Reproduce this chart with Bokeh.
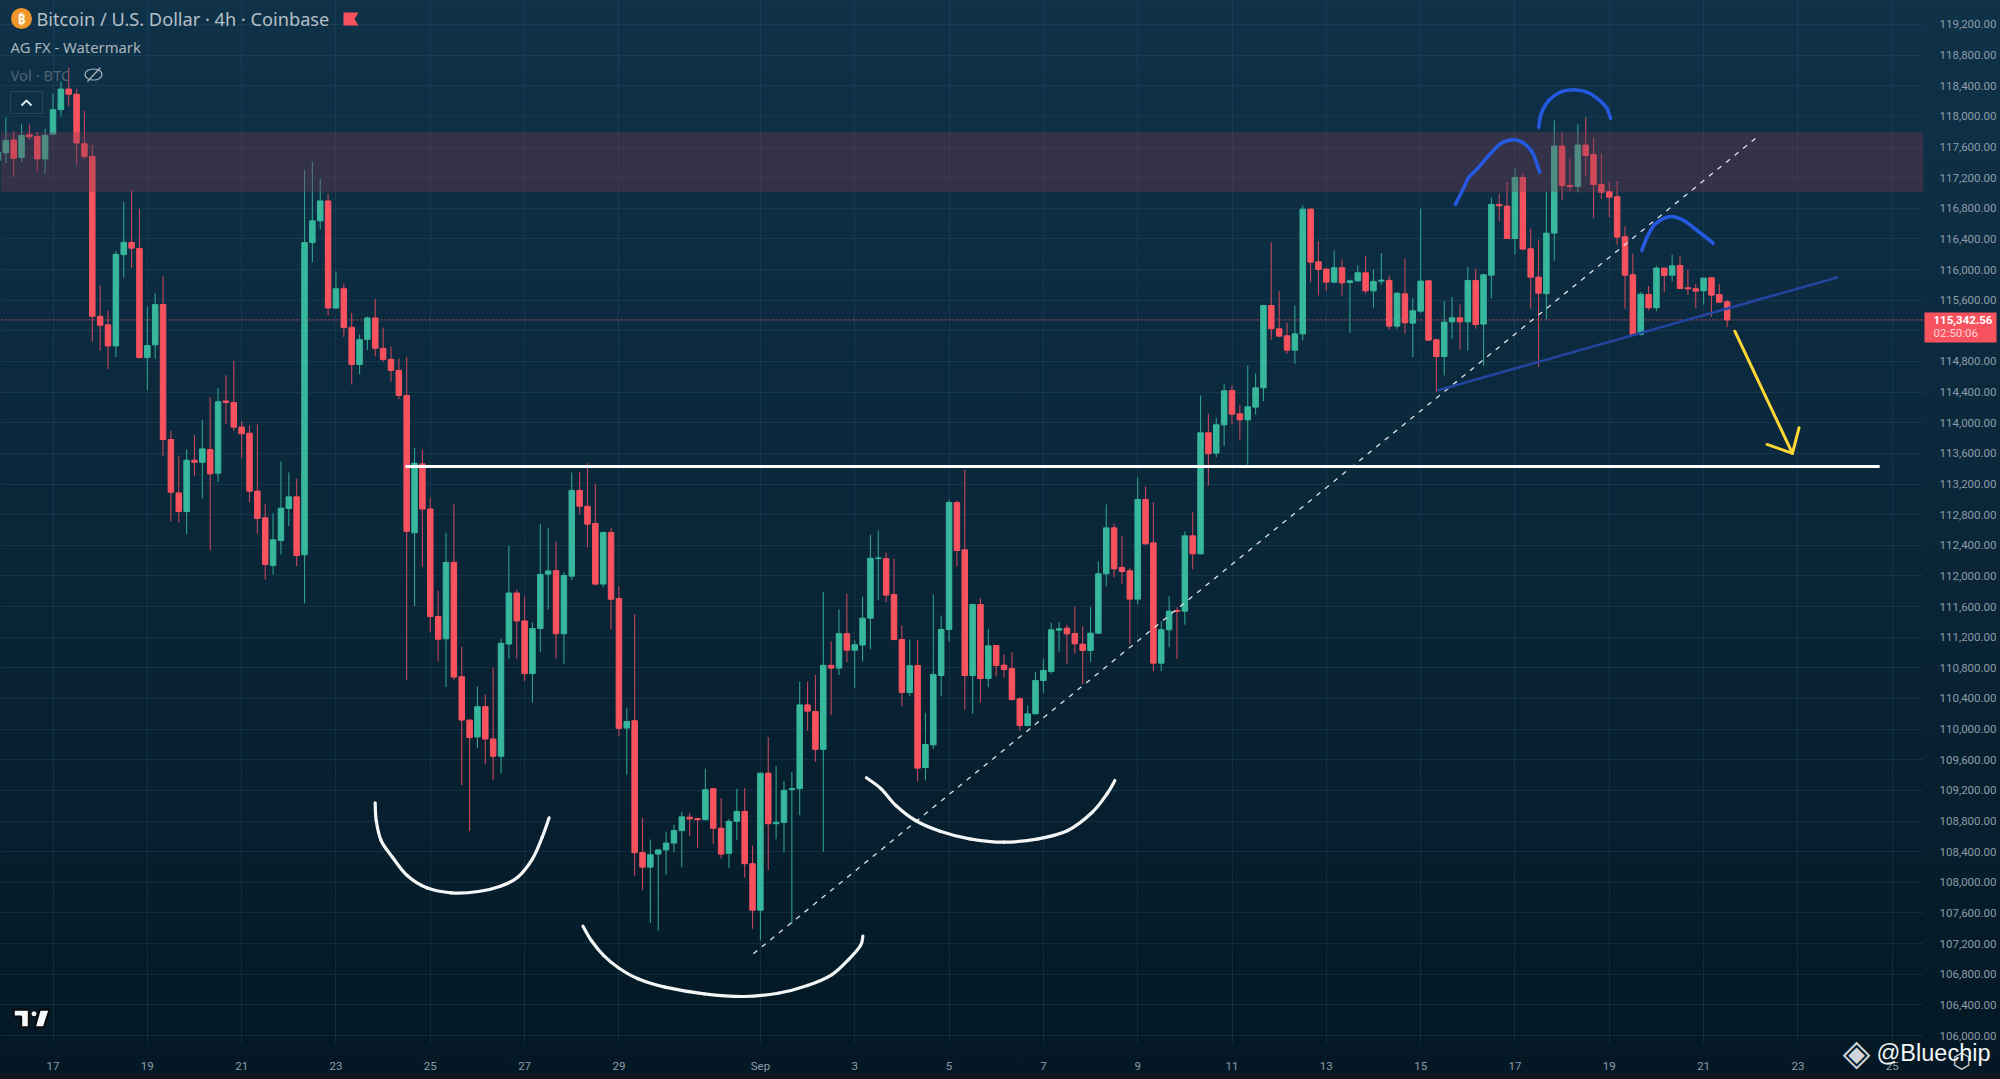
from bokeh.plotting import figure
from bokeh.layouts import column
from bokeh.models import FixedTicker, NumeralTickFormatter, Label
from bokeh.embed import file_html
from bokeh.resources import INLINE

# ---------- candle data (4h candles; index 0 = 17 Aug 00:00) ----------
first_index = -7
opens = [117422,117526,117692,117463,117760,117737,117445,
 117769,118088,118357,118290,117643,117476,115390,115278,115003,116195,
 116352,116276,114851,115017,115543,113781,113084,112841,113511,113484,
 113651,113342,114284,114265,113943,113864,113107,112759,112137,112463,
 112881,113033,112276,116352,116636,116896,115498,115750,115246,114761,
 115089,115368,114972,114828,114684,114356,112564,113463,112874,111471,
 111179,112177,110684,110118,109898,110293,109871,109646,111111,111777,
 111413,110725,111314,112024,112069,111246,111997,113117,112910,112685,
 111894,112568,111705,110014,110109,108387,108198,108369,108423,108513,
 108675,108850,108832,108818,109223,108706,108378,108796,108926,108243,
 107636,109425,108765,108783,109210,109223,110316,110230,109736,110833,
 110797,111246,111031,111098,111449,112226,112226,111758,111170,110478,
 110831,109499,109795,110700,111301,112959,112341,110700,111627,110661,
 111092,110835,110792,110396,110047,110200,110635,110752,111292,111318,
 111249,111109,111027,111253,112028,112628,112110,112067,111697,112998,
 112432,110861,111297,111549,111540,112524,112289,113869,113603,113973,
 114421,114117,114038,114204,114456,115531,115227,115135,114948,115161,
 116789,116101,116006,115836,116023,115832,115853,115958,115723,115849,
 115858,115262,115684,115301,115457,115853,115083,114865,115318,115370,
 115318,115858,115288,115927,116850,116828,116406,117203,116271,115901,
 115684,116476,117612,117098,117085,117625,117503,117111,117020,116950,
 116428,115932,115153,115675,115501,116019,115927,116054,115762,115749,
 115723,115893,115675,115579]
highs = [117600,117984,117805,117894,117894,117796,117840,
 118299,118456,118636,118357,118074,117625,115795,115467,116244,116883,
 117040,116793,115512,115691,115916,113893,113565,113646,113839,114037,
 114334,114456,114621,114806,114021,113964,113978,112942,112820,113494,
 113351,113268,117301,117409,117184,116986,115975,115817,115435,115152,
 115386,115615,115242,114995,114837,114860,113674,113643,113022,111808,
 112564,112932,111076,110130,110558,110451,110806,111179,112393,111822,
 111732,111395,112681,112627,112451,112047,113350,113359,113472,113202,
 112580,112631,111862,110280,111503,108841,108558,108430,108661,108751,
 108917,108908,108841,109484,109230,109102,108827,109223,109232,108481,
 109430,109898,109515,109322,109439,110617,110617,110707,111795,111143,
 111561,111772,111156,111727,112537,112595,112303,112223,111353,111166,
 111157,110213,111758,111484,112994,112985,113385,111636,111710,111310,
 111100,110974,111005,110417,110309,110744,110918,111388,111397,111362,
 111601,111344,111592,112189,112933,112680,112519,112106,113290,113168,
 112963,111410,111736,111592,112585,112833,114356,114117,114065,114508,
 114487,114234,114748,114648,115540,116358,115718,115305,115531,116837,
 116800,116371,116015,116249,116132,115871,116054,116171,116001,116215,
 115923,115705,116141,115631,116793,115860,115090,115588,115640,115544,
 116032,116010,115945,116937,116989,117142,117316,117259,116532,116380,
 117020,117947,117794,117446,117895,117990,117729,117512,117150,117155,
 116567,116206,115705,115784,116045,116025,116193,116171,115997,115814,
 115893,115900,115814,115605]
lows = [117380,117391,117211,117409,117692,117279,117251,
 117760,118007,118128,117364,117445,115062,114941,114702,114860,115894,
 116020,114840,114424,114837,113565,112715,112693,112544,113308,113016,
 112332,113225,113983,113891,113542,112964,112550,111954,112019,112280,
 112650,112128,111645,116096,116523,115399,115489,115120,114500,114635,
 114950,114869,114792,114536,114307,110639,111606,112123,111260,110887,
 110549,110639,109268,108670,109754,109538,109336,109425,110918,110918,
 110630,110347,111008,111561,110923,110851,111943,112806,112370,111876,
 111853,111305,109907,109403,108086,107897,107470,107371,108099,108391,
 108198,108603,108450,108810,108504,108310,108189,108549,108063,107393,
 107245,108158,108562,108391,107456,108877,109978,109574,108400,110181,
 110707,110878,110536,110887,111044,111682,111660,111160,110300,110430,
 109316,109329,109742,110430,111144,112128,110252,110200,110352,110548,
 110687,110670,110374,109982,110039,110195,110474,110722,111014,110853,
 110983,110583,110874,111244,111867,111984,111897,111114,111627,112406,
 110757,110757,111070,110914,111362,112084,112280,113181,113551,113695,
 113978,113782,113451,114108,114282,115083,115118,114900,114770,115074,
 115836,115662,115719,115825,115662,115175,115845,115684,115501,115801,
 115214,115227,115161,114857,115436,115070,114400,114617,115096,114953,
 114944,115227,114739,115627,116628,116400,116197,116260,115488,114726,
 115353,116115,116902,117020,117011,117229,116672,116924,116685,116328,
 115488,115140,115140,115466,115457,115705,115849,115745,115671,115497,
 115544,115388,115562,115248]
closes = [117535,117683,117454,117751,117733,117445,117751,
 118088,118357,118290,117652,117476,115390,115273,115003,116199,116357,
 116280,114851,115008,115543,113781,113093,112841,113511,113484,113659,
 113333,114273,114265,113943,113856,113107,112750,112150,112472,112885,
 113033,112267,116352,116636,116896,115498,115750,115242,114761,115085,
 115368,114972,114828,114684,114356,112582,113472,112874,111471,111174,
 112177,110680,110118,109889,110293,109871,109646,111120,111777,111413,
 110725,111314,112020,112065,111246,112006,113117,112910,112676,111894,
 112568,111696,110010,110100,108387,108198,108360,108423,108513,108675,
 108855,108828,108818,109210,108706,108369,108796,108926,108243,107636,
 109425,108765,108783,109201,109223,110316,110235,109736,110833,110797,
 111246,111031,111102,111449,112231,112235,111750,111170,110478,110827,
 109490,109799,110713,111301,112959,112332,110700,111627,110661,111088,
 110831,110779,110387,110047,110200,110635,110766,111297,111310,111244,
 111114,111027,111253,112028,112628,112093,112058,111697,112998,112419,
 110861,111297,111540,111536,112524,112289,113869,113595,113973,114417,
 114112,114038,114208,114456,115531,115227,115131,114948,115161,116789,
 116097,116001,115836,116023,115827,115853,115958,115723,115845,115862,
 115262,115692,115305,115462,115849,115079,114865,115314,115370,115318,
 115858,115283,115932,116850,116833,116406,117203,116267,115901,115692,
 116476,117612,117098,117085,117625,117490,117111,117011,116946,116424,
 115927,115153,115679,115501,116019,115923,116049,115753,115749,115719,
 115888,115666,115575,115342.56]

# ---------- axis content ----------
time_tick_index = [0,12,24,36,48,60,72,90,102,114,126,138,150,162,174,186,198,210,222,234]
time_tick_labels = ["17","19","21","23","25","27","29","Sep","3","5","7","9","11","13","15","17","19","21","23","25"]
price_ticks = list(range(106000, 119201, 400))

# ---------- drawings on the chart, as (candle index, price) ----------
zone_top, zone_bottom = 117794, 117010
neck_index, neck_price = [44.85, 232.4], [113428, 113428]
dash_index, dash_price = [89.1, 216.9], [107067, 117737]
rise_index, rise_price = [176.1, 227.1], [114421, 115900]
smile_1_index = [40.99,41.12,41.74,43.19,45.06,47.56,50.69,54.12,56.93,59.12,61.0,62.24,63.12]
smile_1_price = [109038,108807,108546,108328,108089,107928,107863,107880,107949,108067,108307,108589,108842]
smile_2_index = [67.43,68.49,70.05,71.93,74.43,77.86,82.86,87.86,92.24,95.99,99.11,101.3,102.74,103.04]
smile_2_price = [107427,107240,107045,106884,106740,106631,106544,106509,106552,106653,106796,107001,107175,107297]
smile_3_index = [103.49,105.36,107.24,109.73,112.86,116.6,120.98,125.36,129.11,132.23,134.11,135.1]
smile_3_price = [109365,109221,109003,108807,108667,108568,108524,108568,108677,108915,109156,109329]
arch_1_index = [178.42,179.49,180.13,181.2,182.67,184.16,185.65,186.92,188.2,189.16]
arch_1_price = [116850,117068,117206,117316,117489,117642,117694,117663,117532,117271]
arch_2_index = [189.03,189.34,190.3,191.79,193.48,195.39,196.88,197.74,198.15]
arch_2_price = [117859,118034,118207,118316,118347,118308,118198,118099,117976]
arch_3_index = [202.14,202.82,203.88,205.79,207.48,209.19,211.22]
arch_3_price = [116249,116423,116598,116693,116641,116510,116344]
arrow_index = [213.97,221.3]
arrow_price = [115195,113601]
head_index = [218.07,221.3,222.14]
head_price = [113717,113601,113934]

# ---------- styling ----------
UP, DOWN = "#37b79c", "#f9525f"
UP_WICK, DOWN_WICK = "#2f9f8b", "#c2475a"
TXT = "#8d9ca8"
W, H = 2000, 1079
FRAME_R, FRAME_B = 1923, 1043
PX_PER_CANDLE = 7.86
X0_PX = 52.5
PX_PER_UNIT = 1 / 13.056
Y_TOP = 119513.0
FIXED = {"position": "fixed", "left": "0px", "top": "0px"}

def X(px):
    return (px - X0_PX) / PX_PER_CANDLE

def Y(py):
    return Y_TOP - py / PX_PER_UNIT

p = figure(width=W, height=H, output_backend="svg", toolbar_location=None,
           x_range=(X(0), X(FRAME_R)), y_range=(Y(FRAME_B), Y_TOP),
           y_axis_location="right",
           min_border_left=0, min_border_top=0,
           min_border_right=W - FRAME_R, min_border_bottom=H - FRAME_B,
           background_fill_alpha=0, border_fill_alpha=0, outline_line_color=None,
           styles=dict(FIXED, background="linear-gradient(180deg,#0f3249 0%,#0a2639 50%,#031824 99.5%,#14151d 99.5%)"))
p.frame_align = False

p.xaxis.ticker = FixedTicker(ticks=time_tick_index)
p.xaxis.major_label_overrides = dict(zip(time_tick_index, time_tick_labels))
p.yaxis.ticker = FixedTicker(ticks=price_ticks)
p.yaxis.formatter = NumeralTickFormatter(format="0,0.00")
for ax in (p.xaxis, p.yaxis):
    ax.axis_line_color = None
    ax.major_tick_line_color = None
    ax.minor_tick_line_color = None
    ax.major_label_text_color = TXT
    ax.major_label_text_font = "Roboto"
    ax.major_label_text_font_size = "11.5px"
p.yaxis.major_label_standoff = 10
p.xaxis.major_label_standoff = 9
p.xgrid.ticker = FixedTicker(ticks=time_tick_index)
p.ygrid.ticker = FixedTicker(ticks=price_ticks)
for g in (p.xgrid, p.ygrid):
    g.grid_line_color = "#3a6a80"
    g.grid_line_alpha = 0.22
    g.grid_line_width = 1

# dotted last-price line sits behind the candles
p.line([X(0), X(FRAME_R)], [closes[-1], closes[-1]], line_color=DOWN, line_alpha=0.8,
       line_width=1, line_dash=[2, 2])

idx = [first_index + k for k in range(len(closes))]
body_col = [UP if c >= o else DOWN for o, c in zip(opens, closes)]
wick_col = [UP_WICK if c >= o else DOWN_WICK for o, c in zip(opens, closes)]
p.segment(idx, highs, idx, lows, line_color=wick_col, line_width=1.1)
p.vbar(idx, width=0.7, top=[max(a, b) for a, b in zip(opens, closes)],
       bottom=[min(a, b) for a, b in zip(opens, closes)],
       fill_color=body_col, line_color=body_col, line_width=1)

# supply zone
p.quad(left=X(0), right=X(FRAME_R), top=zone_top, bottom=zone_bottom,
       fill_color="#7a3a50", fill_alpha=0.35, line_color=None)


def freehand(xs, ys, color, width):
    xa, ya = [xs[0]] + list(xs) + [xs[-1]], [ys[0]] + list(ys) + [ys[-1]]
    n = len(xs) - 1
    p.bezier(xs[:-1], ys[:-1], xs[1:], ys[1:],
             [xa[k + 1] + (xa[k + 2] - xa[k]) / 6 for k in range(n)],
             [ya[k + 1] + (ya[k + 2] - ya[k]) / 6 for k in range(n)],
             [xa[k + 2] - (xa[k + 3] - xa[k + 1]) / 6 for k in range(n)],
             [ya[k + 2] - (ya[k + 3] - ya[k + 1]) / 6 for k in range(n)],
             line_color=color, line_width=width, line_cap="round")


# drawings
p.line(dash_index, dash_price, line_color="#dfe4e6", line_width=1.3, line_dash=[5, 6])
p.line(rise_index, rise_price, line_color="#23459f", line_width=2.5)
p.line(neck_index, neck_price, line_color="#ffffff", line_width=3)
for xs, ys in ((smile_1_index, smile_1_price), (smile_2_index, smile_2_price), (smile_3_index, smile_3_price)):
    freehand(xs, ys, "#f4f6f6", 3.2)
for xs, ys in ((arch_1_index, arch_1_price), (arch_2_index, arch_2_price), (arch_3_index, arch_3_price)):
    freehand(xs, ys, "#2459e0", 3.6)
p.line(arrow_index, arrow_price, line_color="#fdd835", line_width=3, line_cap="round")
p.line(head_index, head_price, line_color="#fdd835", line_width=3, line_cap="round", line_join="round")


def text(fig, x, y, s, size, color, font="Noto Sans", align="left", style="normal"):
    fig.add_layout(Label(x=x, y=y, text=s, text_font=font, text_font_size=f"{size}px",
                         text_color=color, text_align=align, text_baseline="middle",
                         text_font_style=style))


def ptext(px, py, *a, **k):
    text(p, X(px), Y(py), *a, **k)


# legend block, top left
p.scatter([X(21)], [Y(18)], size=21, marker="circle", fill_color="#f0962a", line_color=None)
ptext(21, 18, "₿", 14, "#fdf2e0", align="center", style="bold")
ptext(36, 18, "Bitcoin / U.S. Dollar · 4h · Coinbase", 18.2, "#b4bfc6")
p.patch([X(v) for v in (343, 358, 354, 358, 343)], [Y(v) for v in (12, 12, 18.5, 25, 25)],
        fill_color="#f9525f", line_color=None)
ptext(10, 46, "AG FX - Watermark", 14.8, "#a9b5bb")
ptext(10, 74, "Vol · BTC", 14.8, "#4f6472")
p.ellipse([X(93)], [Y(74)], width=17, height=11, width_units="screen", height_units="screen",
          fill_color=None, line_color="#a9b5bb", line_width=1.2)
p.line([X(87), X(100)], [Y(81), Y(67)], line_color="#a9b5bb", line_width=1.2)
p.line([X(10), X(42), X(42), X(10), X(10)], [Y(91), Y(91), Y(113), Y(113), Y(91)],
       line_color="#24465c", line_width=1)
p.line([X(21), X(26), X(31)], [Y(105), Y(100), Y(105)], line_color="#e3e8ea", line_width=1.8)

# TradingView logo, bottom left
logo = dict(fill_color="#f6f7f8", line_color="#0b0b0d", line_width=2)
p.patch([X(v) for v in (13.3, 28.3, 28.3, 20.7, 20.7, 13.3)],
        [Y(v) for v in (1009.3, 1009.3, 1026.7, 1026.7, 1016, 1016)], **logo)
p.patch([X(v) for v in (39.3, 49, 43.3, 34.3)], [Y(v) for v in (1009.3, 1009.3, 1026.7, 1026.7)], **logo)
p.scatter([X(33.5)], [Y(1013.3)], size=6, marker="circle", fill_color="#f6f7f8", line_color="#0b0b0d", line_width=1)

# transparent layer in page pixels, for what lies over the axes
top = figure(width=W, height=H, output_backend="svg", toolbar_location=None,
             x_range=(0, W), y_range=(H, 0), x_axis_type=None, y_axis_type=None,
             min_border=0, background_fill_alpha=0, border_fill_alpha=0,
             outline_line_color=None, styles=FIXED)
top.frame_align = False
top.grid.visible = False

# last-price tag on the price axis
top.quad(left=1924, right=1996, top=312, bottom=342, fill_color="#f9525f", line_color=None)
text(top, 1933, 319.5, "115,342.56", 11.5, "#ffffff", font="Roboto", style="bold")
text(top, 1933, 332.5, "02:50:06", 11.5, "#ffd3d6", font="Roboto")

# stamp, bottom right
text(top, 1961, 1060, "⬡", 21, "#d0d5d9", font="DejaVu Sans", align="center")
text(top, 1856, 1052, "◈", 36, "#cfd5da", font="DejaVu Sans", align="center")
text(top, 1876, 1052, "@Bluechip", 23.5, "#f2f4f5", font="Liberation Sans")

open("out.html", "w").write(file_html(column(p, top), INLINE))
